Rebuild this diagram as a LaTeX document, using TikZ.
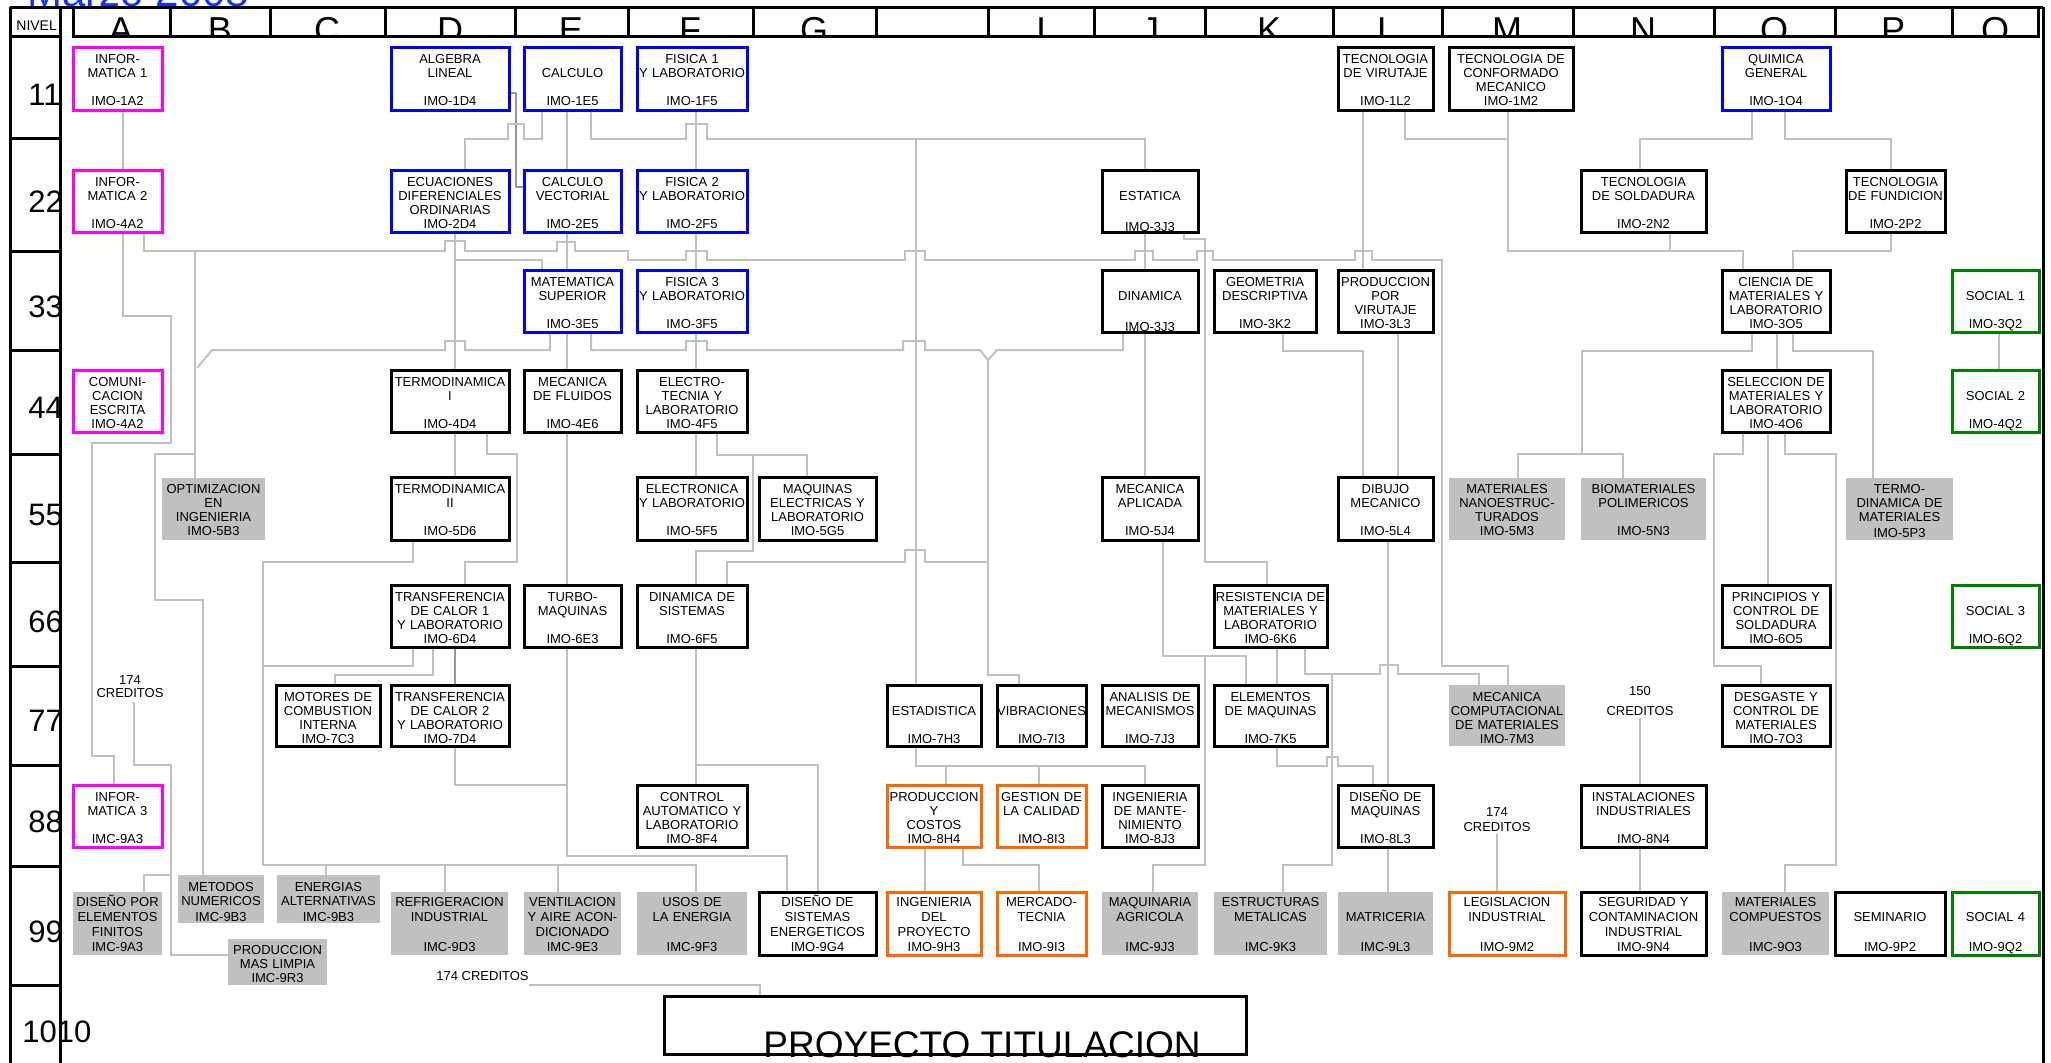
\documentclass[tikz,border=0pt]{standalone}
\usepackage{fontspec}
\setmainfont{Liberation Sans}
\usetikzlibrary{backgrounds}
\definecolor{magc}{RGB}{255,0,255}
\definecolor{bluc}{RGB}{0,0,255}
\definecolor{grnc}{RGB}{0,128,0}
\definecolor{orgc}{RGB}{255,102,0}
\definecolor{gfill}{RGB}{192,192,192}
\definecolor{gline}{RGB}{192,192,192}
\definecolor{dline}{RGB}{150,150,150}
\definecolor{titc}{RGB}{20,50,255}
\newcommand\crsbox[8][8.3]{%
  \pgfmathsetmacro\bw{(#5-#3)*0.5}%
  \pgfmathsetmacro\bd{(#6-#4)*0.5-#1}%
  \node[crs,#7,text width=\bw pt,text height=#1pt,text depth=\bd pt] (#2) at (#3,#4) {#8};%
}
\begin{document}
\begin{tikzpicture}[x=0.5pt,y=-0.5pt,
  crs/.style={anchor=north west,inner sep=0pt,outer sep=0pt,align=center,
    font=\fontsize{6.5}{7}\selectfont,line width=1.5pt},
  rnine/.style={font=\fontsize{6.5}{7.5}\selectfont},
  blkb/.style={draw=black,fill=white},
  magb/.style={draw=magc,fill=white},
  blub/.style={draw=bluc,fill=white},
  grnb/.style={draw=grnc,fill=white},
  orgb/.style={draw=orgc,fill=white},
  gryb/.style={fill=gfill},
  conn/.style={draw=gline,line width=1pt},
  dconn/.style={draw=dline,line width=1pt},
  hline/.style={draw=black,line width=1.5pt},
  hdr/.style={anchor=base,inner sep=0pt,font=\fontsize{18}{18}\selectfont},
  rowl/.style={anchor=base west,inner sep=0pt,font=\fontsize{15.5}{15.5}\selectfont},
  small/.style={inner sep=0pt,font=\fontsize{6.5}{7}\selectfont}]
\useasboundingbox (0,0) rectangle (2051,1062);

% title (clipped by page)
\node[anchor=base west,inner sep=0pt,text=titc,font=\fontsize{21}{21}\selectfont] (title) at (27,6.5) {Marzo 2008};

% frame
\draw[hline] (10,7) -- (2043,7);
\draw[hline] (10,7) -- (10,1066);
\draw[hline] (60,7) -- (60,1066);
\draw[hline] (2043,7) -- (2043,1066);
\foreach \yy in {36,138,251,350,454,562,666,765,866,985} {\draw[hline] (10,\yy) -- (60,\yy);}
\draw[hline] (73,7) -- (73,36) -- (2038,36) -- (2038,7);
\foreach \xx in {170,270,385,515,628,753,876,988,1094,1205,1333,1442,1573,1714,1835,1952} {\draw[hline] (\xx,7) -- (\xx,36);}
\node[anchor=base west,inner sep=0pt,font=\fontsize{7}{7}\selectfont] (nivel) at (16,30) {NIVEL};
\begin{scope}
\clip (73,8) rectangle (2038,35);
\node[hdr] (hA) at (121,42) {A};
\node[hdr] (hB) at (220,42) {B};
\node[hdr] (hC) at (327,42) {C};
\node[hdr] (hD) at (450,42) {D};
\node[hdr] (hE) at (571,42) {E};
\node[hdr] (hF) at (690,42) {F};
\node[hdr] (hG) at (814,42) {G};
\node[hdr] (hI) at (1041,42) {I};
\node[hdr] (hJ) at (1150,42) {J};
\node[hdr] (hK) at (1269,42) {K};
\node[hdr] (hL) at (1387,42) {L};
\node[hdr] (hM) at (1507,42) {M};
\node[hdr] (hN) at (1643,42) {N};
\node[hdr] (hO) at (1774,42) {O};
\node[hdr] (hP) at (1893,42) {P};
\node[hdr] (hQ) at (1995,42) {Q};
\end{scope}
\node[rowl] (l1) at (28,105) {11};
\node[rowl] (l2) at (28,212) {22};
\node[rowl] (l3) at (28,317) {33};
\node[rowl] (l4) at (28,418) {44};
\node[rowl] (l5) at (28,525) {55};
\node[rowl] (l6) at (28,632) {66};
\node[rowl] (l7) at (28,731) {77};
\node[rowl] (l8) at (28,832) {88};
\node[rowl] (l9) at (28,942) {99};
\node[rowl] (l10) at (22,1042) {1010};

% ---- row 1
\crsbox{r1A}{73}{47}{162}{110}{magb}{INFOR-\\MATICA 1\\\mbox{}\\IMO-1A2}
\crsbox{r1D}{391}{47}{509}{110}{blub}{ALGEBRA\\LINEAL\\\mbox{}\\IMO-1D4}
\crsbox{r1E}{524}{47}{621}{110}{blub}{\mbox{}\\CALCULO\\\mbox{}\\IMO-1E5}
\crsbox{r1F}{637}{47}{747}{110}{blub}{FISICA 1\\Y LABORATORIO\\\mbox{}\\IMO-1F5}
\crsbox{r1L}{1338}{47}{1433}{110}{blkb}{TECNOLOGIA\\DE VIRUTAJE\\\mbox{}\\IMO-1L2}
\crsbox{r1M}{1449}{47}{1573}{110}{blkb}{TECNOLOGIA DE\\CONFORMADO\\MECANICO\\IMO-1M2}
\crsbox{r1O}{1722}{47}{1830}{110}{blub}{QUIMICA\\GENERAL\\\mbox{}\\IMO-1O4}
% ---- row 2
\crsbox{r2A}{73}{170}{162}{232}{magb}{INFOR-\\MATICA 2\\\mbox{}\\IMO-4A2}
\crsbox{r2D}{391}{170}{509}{232}{blub}{ECUACIONES\\DIFERENCIALES\\ORDINARIAS\\IMO-2D4}
\crsbox{r2E}{524}{170}{621}{232}{blub}{CALCULO\\VECTORIAL\\\mbox{}\\IMO-2E5}
\crsbox{r2F}{637}{170}{747}{232}{blub}{FISICA 2\\Y LABORATORIO\\\mbox{}\\IMO-2F5}
\crsbox{r2J}{1102}{170}{1198}{232}{blkb}{\mbox{}\\ESTATICA\\\mbox{}\\[1.5pt]IMO-3J3}
\crsbox{r2N}{1581}{170}{1706}{232}{blkb}{TECNOLOGIA\\DE SOLDADURA\\\mbox{}\\IMO-2N2}
\crsbox{r2P}{1846}{170}{1945}{232}{blkb}{TECNOLOGIA\\DE FUNDICION\\\mbox{}\\IMO-2P2}
% ---- row 3
\crsbox{r3E}{524}{270}{621}{332}{blub}{MATEMATICA\\SUPERIOR\\\mbox{}\\IMO-3E5}
\crsbox{r3F}{637}{270}{747}{332}{blub}{FISICA 3\\Y LABORATORIO\\\mbox{}\\IMO-3F5}
\crsbox{r3J}{1102}{270}{1198}{332}{blkb}{\mbox{}\\DINAMICA\\\mbox{}\\[1.5pt]IMO-3J3}
\crsbox{r3K}{1214}{270}{1316}{332}{blkb}{GEOMETRIA\\DESCRIPTIVA\\\mbox{}\\IMO-3K2}
\crsbox{r3L}{1338}{270}{1433}{332}{blkb}{PRODUCCION\\POR\\VIRUTAJE\\IMO-3L3}
\crsbox{r3O}{1722}{270}{1830}{332}{blkb}{CIENCIA DE\\MATERIALES Y\\LABORATORIO\\IMO-3O5}
\crsbox{r3Q}{1952}{270}{2039}{332}{grnb}{\mbox{}\\SOCIAL 1\\\mbox{}\\IMO-3Q2}
% ---- row 4
\crsbox{r4A}{73}{370}{162}{432}{magb}{COMUNI-\\CACION\\ESCRITA\\IMO-4A2}
\crsbox{r4D}{391}{370}{509}{432}{blkb}{TERMODINAMICA\\I\\\mbox{}\\IMO-4D4}
\crsbox{r4E}{524}{370}{621}{432}{blkb}{MECANICA\\DE FLUIDOS\\\mbox{}\\IMO-4E6}
\crsbox{r4F}{637}{370}{747}{432}{blkb}{ELECTRO-\\TECNIA Y\\LABORATORIO\\IMO-4F5}
\crsbox{r4O}{1722}{370}{1830}{432}{blkb}{SELECCION DE\\MATERIALES Y\\LABORATORIO\\IMO-4O6}
\crsbox{r4Q}{1952}{370}{2039}{432}{grnb}{\mbox{}\\SOCIAL 2\\\mbox{}\\IMO-4Q2}
% ---- row 5
\crsbox[7.8]{r5B}{162}{478}{265}{540}{gryb}{OPTIMIZACION\\EN\\INGENIERIA\\IMO-5B3}
\crsbox{r5D}{391}{477}{509}{540}{blkb}{TERMODINAMICA\\II\\\mbox{}\\IMO-5D6}
\crsbox{r5F}{637}{477}{747}{540}{blkb}{ELECTRONICA\\Y LABORATORIO\\\mbox{}\\IMO-5F5}
\crsbox{r5G}{759}{477}{876}{540}{blkb}{MAQUINAS\\ELECTRICAS Y\\LABORATORIO\\IMO-5G5}
\crsbox{r5J}{1102}{477}{1198}{540}{blkb}{MECANICA\\APLICADA\\\mbox{}\\IMO-5J4}
\crsbox{r5L}{1338}{477}{1433}{540}{blkb}{DIBUJO\\MECANICO\\\mbox{}\\IMO-5L4}
\crsbox[7.8]{r5M}{1449}{478}{1565}{540}{gryb}{MATERIALES\\NANOESTRUC-\\TURADOS\\IMO-5M3}
\crsbox[7.8]{r5N}{1581}{478}{1706}{540}{gryb}{BIOMATERIALES\\POLIMERICOS\\\mbox{}\\IMO-5N3}
\crsbox[7.8]{r5P}{1846}{478}{1953}{540}{gryb}{TERMO-\\DINAMICA DE\\MATERIALES\\[1pt]IMO-5P3}
% ---- row 6
\crsbox{r6D}{391}{585}{509}{647}{blkb}{TRANSFERENCIA\\DE CALOR 1\\Y LABORATORIO\\IMO-6D4}
\crsbox{r6E}{524}{585}{621}{647}{blkb}{TURBO-\\MAQUINAS\\\mbox{}\\IMO-6E3}
\crsbox{r6F}{637}{585}{747}{647}{blkb}{DINAMICA DE\\SISTEMAS\\\mbox{}\\IMO-6F5}
\crsbox{r6K}{1214}{585}{1327}{647}{blkb}{RESISTENCIA DE\\MATERIALES Y\\LABORATORIO\\IMO-6K6}
\crsbox{r6O}{1722}{585}{1830}{647}{blkb}{PRINCIPIOS Y\\CONTROL DE\\SOLDADURA\\IMO-6O5}
\crsbox{r6Q}{1952}{585}{2039}{647}{grnb}{\mbox{}\\SOCIAL 3\\\mbox{}\\IMO-6Q2}
% ---- row 7
\crsbox{r7C}{276}{685}{380}{746}{blkb}{MOTORES DE\\COMBUSTION\\INTERNA\\IMO-7C3}
\crsbox{r7D}{391}{685}{509}{746}{blkb}{TRANSFERENCIA\\DE CALOR 2\\Y LABORATORIO\\IMO-7D4}
\crsbox{r7H}{887}{685}{981}{746}{blkb}{\mbox{}\\ESTADISTICA\\\mbox{}\\IMO-7H3}
\crsbox{r7I}{997}{685}{1086}{746}{blkb}{\mbox{}\\VIBRACIONES\\\mbox{}\\IMO-7I3}
\crsbox{r7J}{1102}{685}{1198}{746}{blkb}{ANALISIS DE\\MECANISMOS\\\mbox{}\\IMO-7J3}
\crsbox{r7K}{1214}{685}{1327}{746}{blkb}{ELEMENTOS\\DE MAQUINAS\\\mbox{}\\IMO-7K5}
\crsbox{r7M}{1449}{685}{1565}{746}{gryb}{MECANICA\\COMPUTACIONAL\\DE MATERIALES\\IMO-7M3}
\crsbox{r7O}{1722}{685}{1830}{746}{blkb}{DESGASTE Y\\CONTROL DE\\MATERIALES\\IMO-7O3}
\crsbox[6.3]{t174a}{90}{672}{170}{702}{}{174\\[-0.5pt]CREDITOS}
\crsbox[7.8]{t150}{1600}{680}{1680}{718}{}{150\\[3pt]CREDITOS}
% ---- row 8
\crsbox{r8A}{73}{785}{162}{847}{magb}{INFOR-\\MATICA 3\\\mbox{}\\IMC-9A3}
\crsbox{r8F}{637}{785}{747}{847}{blkb}{CONTROL\\AUTOMATICO Y\\LABORATORIO\\IMO-8F4}
\crsbox{r8H}{887}{785}{981}{847}{orgb}{PRODUCCION\\Y\\COSTOS\\IMO-8H4}
\crsbox{r8I}{997}{785}{1086}{847}{orgb}{GESTION DE\\LA CALIDAD\\\mbox{}\\IMO-8I3}
\crsbox{r8J}{1102}{785}{1198}{847}{blkb}{INGENIERIA\\DE MANTE-\\NIMIENTO\\IMO-8J3}
\crsbox{r8L}{1338}{785}{1433}{847}{blkb}{DISEÑO DE\\MAQUINAS\\\mbox{}\\IMO-8L3}
\crsbox{r8N}{1581}{785}{1706}{847}{blkb}{INSTALACIONES\\INDUSTRIALES\\\mbox{}\\IMO-8N4}
\crsbox{t174m}{1457}{800}{1537}{834}{}{174\\[0.5pt]CREDITOS}
% ---- row 9
\crsbox[7.3]{r9A}{73}{892}{162}{955}{gryb,rnine}{DISEÑO POR\\ELEMENTOS\\FINITOS\\IMC-9A3}
\crsbox{r9B}{178}{875}{264}{923}{gryb}{METODOS\\NUMERICOS\\[1pt]IMC-9B3}
\crsbox{r9C}{277}{875}{380}{923}{gryb}{ENERGIAS\\ALTERNATIVAS\\[1pt]IMC-9B3}
\crsbox[7.3]{r9D}{391}{892}{508}{955}{gryb,rnine}{REFRIGERACION\\INDUSTRIAL\\\mbox{}\\IMC-9D3}
\crsbox[7.8]{r9R}{228}{939}{327}{985}{gryb}{PRODUCCION\\MAS LIMPIA\\IMC-9R3}
\crsbox[7.3]{r9E}{524}{892}{621}{955}{gryb,rnine}{VENTILACION\\Y AIRE ACON-\\DICIONADO\\IMC-9E3}
\crsbox[7.3]{r9F}{637}{892}{747}{955}{gryb,rnine}{USOS DE\\LA ENERGIA\\\mbox{}\\IMC-9F3}
\crsbox[7.3]{r9G}{759}{892}{876}{955}{blkb,rnine}{DISEÑO DE\\SISTEMAS\\ENERGETICOS\\IMO-9G4}
\crsbox[7.3]{r9H}{887}{892}{981}{955}{orgb,rnine}{INGENIERIA\\DEL\\PROYECTO\\IMO-9H3}
\crsbox[7.3]{r9I}{997}{892}{1086}{955}{orgb,rnine}{MERCADO-\\TECNIA\\\mbox{}\\IMO-9I3}
\crsbox[7.3]{r9J}{1102}{892}{1198}{955}{gryb,rnine}{MAQUINARIA\\AGRICOLA\\\mbox{}\\IMC-9J3}
\crsbox[7.3]{r9K}{1214}{892}{1327}{955}{gryb,rnine}{ESTRUCTURAS\\METALICAS\\\mbox{}\\IMC-9K3}
\crsbox[7.3]{r9L}{1338}{892}{1433}{955}{gryb,rnine}{\mbox{}\\MATRICERIA\\\mbox{}\\IMC-9L3}
\crsbox[7.3]{r9M}{1449}{892}{1565}{955}{orgb,rnine}{LEGISLACION\\INDUSTRIAL\\\mbox{}\\IMO-9M2}
\crsbox[7.3]{r9N}{1581}{892}{1706}{955}{blkb,rnine}{SEGURIDAD Y\\CONTAMINACION\\INDUSTRIAL\\IMO-9N4}
\crsbox[7.3]{r9O}{1722}{892}{1829}{955}{gryb,rnine}{MATERIALES\\COMPUESTOS\\\mbox{}\\IMC-9O3}
\crsbox[7.3]{r9P}{1835}{892}{1945}{955}{blkb,rnine}{\mbox{}\\SEMINARIO\\\mbox{}\\IMO-9P2}
\crsbox[7.3]{r9Q}{1952}{892}{2039}{955}{grnb,rnine}{\mbox{}\\SOCIAL 4\\\mbox{}\\IMO-9Q2}
\node[small,anchor=base west] (t174b) at (436,980.6) {174 CREDITOS};
% ---- row 10
\node[draw=black,line width=1.5pt,anchor=north west,inner sep=0pt,outer sep=0pt,
  minimum width=291pt,minimum height=29pt] (r10) at (664,996) {};
\node[anchor=base west,inner sep=0pt,font=\fontsize{18.5}{18.5}\selectfont] (tproy) at (763,1057) {PROYECTO TITULACION};

% ================= connectors
\begin{pgfonlayer}{background}
\draw[conn] (r1A.south -| 123,0) -- (r2A.north -| 123,0);
\draw[dconn] (r1D.east |- 0,93) -- (516,93) -- (516,187) -- (r2E.west |- 0,187);
\draw[conn] (r1E.south -| 542,0) -- (542,139) -- (524,139) -- (524,124) -- (508,124) -- (508,139) -- (465,139) -- (r2D.north -| 465,0);
\draw[conn] (r1E.south -| 567,0) -- (r2E.north -| 567,0);
\draw[conn] (r1E.south -| 591,0) -- (591,139) -- (686,139) -- (686,124) -- (707,124) -- (707,139) -- (1145,139) -- (r2J.north -| 1145,0);
\coordinate (jA) at (916,139);
\draw[conn] (jA) -- (r7H.north -| 916,0);
\draw[conn] (r1F.south -| 696,0) -- (r2F.north -| 696,0);
\draw[conn] (r2F.south -| 696,0) -- (r3F.north -| 696,0);
\draw[conn] (r3F.south -| 696,0) -- (r4F.north -| 696,0);
% informatica
\draw[conn] (r2A.south -| 123,0) -- (123,316) -- (171,316) -- (171,443) -- (92,443) -- (92,756) -- (114,756) -- (r8A.north -| 114,0);
\draw[conn] (r2A.south -| 144,0) -- (144,251) -- (445,251) -- (445,241) -- (465,241) -- (465,251) -- (557,251) -- (557,242) -- (575,242) -- (575,251) -- (628,251) -- (628,260) -- (686,260) -- (686,251) -- (707,251) -- (707,260) -- (905,260) -- (905,251) -- (925,251) -- (925,260) -- (1135,260) -- (1135,251) -- (1153,251) -- (1153,260) -- (1197,260) -- (1197,251) -- (1213,251) -- (1213,260) -- (1355,260) -- (1355,251) -- (1372,251) -- (1372,260) -- (1442,260) -- (1442,666) -- (1508,666) -- (r7M.north -| 1508,0);
\coordinate (jB) at (195,251);
\draw[conn] (jB) -- (r5B.north -| 195,0);
\coordinate (jC) at (195,454);
\draw[conn] (jC) -- (155,454) -- (155,600) -- (203,600) -- (r9B.north -| 203,0);
% ecuaciones / calculo vectorial / matematica superior
\draw[conn] (r2D.south -| 455,0) -- (r4D.north -| 455,0);
\coordinate (jD) at (455,260);
\draw[conn] (jD) -- (542,260) -- (r3E.north -| 542,0);
\draw[conn] (r2E.south -| 567,0) -- (r3E.north -| 567,0);
\draw[conn] (r3E.south -| 550,0) -- (550,350) -- (465,350) -- (465,341) -- (445,341) -- (445,350) -- (212,350) -- (197,368);
\draw[conn] (r3E.south -| 567,0) -- (r4E.north -| 567,0);
\draw[conn] (r3E.south -| 591,0) -- (591,350) -- (686,350) -- (686,341) -- (707,341) -- (707,350) -- (903,350) -- (903,341) -- (925,341) -- (925,350) -- (980,350) -- (988,360) -- (997,350) -- (1123,350) -- (r3J.south -| 1123,0);
\coordinate (jE) at (988,360);
\draw[conn] (jE) -- (988,675) -- (1019,675) -- (r7I.north -| 1019,0);
\coordinate (jF) at (988,562);
\draw[conn] (jF) -- (925,562) -- (925,550) -- (905,550) -- (905,562) -- (727,562) -- (r6F.north -| 727,0);
% electrotecnia
\draw[conn] (r4F.south -| 696,0) -- (r5F.north -| 696,0);
\draw[conn] (r4F.south -| 717,0) -- (717,455) -- (807,455) -- (r5G.north -| 807,0);
\coordinate (jG) at (753,455);
\draw[conn] (jG) -- (753,551) -- (696,551) -- (r6F.north -| 696,0);
\draw[conn] (r4E.south -| 567,0) -- (r6E.north -| 567,0);
\draw[conn] (r6E.south -| 567,0) -- (567,856) -- (787,856) -- (r9G.north -| 787,0);
\draw[conn] (r7D.south -| 455,0) -- (455,785) -- (567,785);
\draw[conn] (r6F.south -| 696,0) -- (r8F.north -| 696,0);
\coordinate (jH) at (696,765);
\draw[conn] (jH) -- (818,765) -- (r9G.north -| 818,0);
% termodinamica
\draw[conn] (r4D.south -| 455,0) -- (r5D.north -| 455,0);
\draw[conn] (r4D.south -| 487,0) -- (487,454) -- (517,454) -- (517,562) -- (465,562) -- (r6D.north -| 465,0);
\draw[conn] (r5D.south -| 413,0) -- (413,562) -- (263,562) -- (263,865) -- (696,865) -- (r9F.north -| 696,0);
\coordinate (jI) at (326,865);
\draw[conn] (jI) -- (r9C.north -| 326,0);
\coordinate (jJ) at (445,865);
\draw[conn] (jJ) -- (r9D.north -| 445,0);
\coordinate (jK) at (558,865);
\draw[conn] (jK) -- (r9E.north -| 558,0);
\draw[conn] (r6D.south -| 413,0) -- (413,666) -- (263,666);
\draw[conn] (r6D.south -| 433,0) -- (433,675) -- (335,675) -- (r7C.north -| 335,0);
\draw[dconn] (r6D.south -| 455,0) -- (r7D.north -| 455,0);
% creditos A
\draw[conn] (t174a.south -| 134,0) -- (134,765) -- (171,765) -- (171,955) -- (r9R.west |- 0,955);
\coordinate (jL) at (171,875);
\draw[conn] (jL) -- (144,875) -- (r9A.north -| 144,0);
\draw[conn] (t174b.east |- 0,985) -- (760,985) -- (r10.north -| 760,0);
% estadistica
\draw[conn] (r7H.south -| 916,0) -- (916,766) -- (1145,766) -- (r8J.north -| 1145,0);
\coordinate (jM) at (946,766);
\draw[conn] (jM) -- (r8H.north -| 946,0);
\coordinate (jN) at (1039,766);
\draw[conn] (jN) -- (r8I.north -| 1039,0);
\draw[conn] (r8H.south -| 925,0) -- (r9H.north -| 925,0);
\draw[conn] (r8H.south -| 963,0) -- (963,865) -- (1039,865) -- (r9I.north -| 1039,0);
% estatica
\draw[conn] (r2J.south -| 1145,0) -- (r3J.north -| 1145,0);
\draw[conn] (r2J.south -| 1184,0) -- (1184,239) -- (1205,239) -- (1205,562) -- (1267,562) -- (r6K.north -| 1267,0);
\draw[conn] (r3J.south -| 1145,0) -- (r5J.north -| 1145,0);
\draw[conn] (r5J.south -| 1163,0) -- (1163,656) -- (1246,656) -- (r7K.north -| 1246,0);
\coordinate (jO) at (1205,656);
\draw[conn] (jO) -- (1205,865) -- (1153,865) -- (r9J.north -| 1153,0);
\draw[conn] (r6K.south -| 1277,0) -- (r7K.north -| 1277,0);
\draw[conn] (r6K.south -| 1305,0) -- (1305,674) -- (1380,674) -- (1380,665) -- (1398,665) -- (1398,674) -- (1479,674) -- (r7M.north -| 1479,0);
\coordinate (jP) at (1332,674);
\draw[conn] (jP) -- (1332,865) -- (1283,865) -- (r9K.north -| 1283,0);
\draw[conn] (r7K.south -| 1277,0) -- (1277,766) -- (1327,766) -- (1327,757) -- (1338,757) -- (1338,766) -- (1373,766) -- (r8L.north -| 1373,0);
% tecnologias
\draw[conn] (r1L.south -| 1363,0) -- (r3L.north -| 1363,0);
\draw[conn] (r1L.south -| 1405,0) -- (1405,139) -- (1508,139);
\draw[conn] (r1M.south -| 1508,0) -- (1508,251) -- (1743,251) -- (r3O.north -| 1743,0);
\draw[conn] (r2N.south -| 1670,0) -- (1670,251);
\draw[conn] (r2P.south -| 1891,0) -- (1891,251) -- (1793,251) -- (r3O.north -| 1793,0);
\draw[conn] (r1O.south -| 1752,0) -- (1752,139) -- (1640,139) -- (r2N.north -| 1640,0);
\draw[conn] (r1O.south -| 1785,0) -- (1785,139) -- (1891,139) -- (r2P.north -| 1891,0);
\draw[conn] (r3K.south -| 1283,0) -- (1283,351) -- (1363,351) -- (r5L.north -| 1363,0);
\draw[conn] (r3L.south -| 1398,0) -- (r5L.north -| 1398,0);
\draw[conn] (r5L.south -| 1388,0) -- (r8L.north -| 1388,0);
\draw[conn] (r8L.south -| 1388,0) -- (r9L.north -| 1388,0);
\draw[conn] (t174m.south -| 1497,0) -- (r9M.north -| 1497,0);
\draw[conn] (t150.south -| 1640,0) -- (r8N.north -| 1640,0);
\draw[conn] (r8N.south -| 1640,0) -- (r9N.north -| 1640,0);
% materiales
\draw[conn] (r3O.south -| 1752,0) -- (1752,351) -- (1582,351) -- (1582,454);
\draw[conn] (r5M.north -| 1518,0) -- (1518,454) -- (1623,454) -- (r5N.north -| 1623,0);
\draw[conn] (r3O.south -| 1777,0) -- (r4O.north -| 1777,0);
\draw[conn] (r3O.south -| 1793,0) -- (1793,351) -- (1873,351) -- (r5P.north -| 1873,0);
\draw[conn] (r4O.south -| 1743,0) -- (1743,454) -- (1714,454) -- (1714,666) -- (1761,666) -- (r7O.north -| 1761,0);
\draw[conn] (r4O.south -| 1768,0) -- (r6O.north -| 1768,0);
\draw[conn] (r4O.south -| 1785,0) -- (1785,454) -- (1836,454) -- (1836,865) -- (1785,865) -- (r9O.north -| 1785,0);
\draw[conn] (r3Q.south -| 1999,0) -- (r4Q.north -| 1999,0);
\end{pgfonlayer}
\end{tikzpicture}
\end{document}
